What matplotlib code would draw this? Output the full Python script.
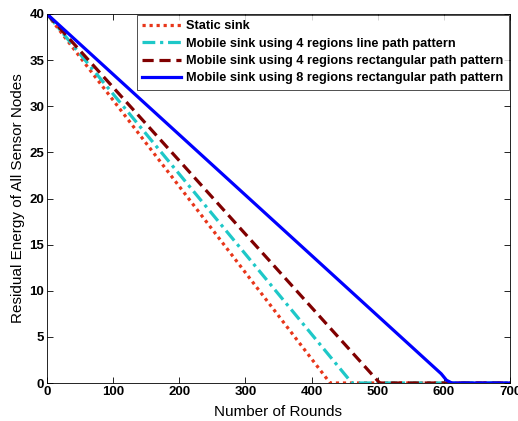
import matplotlib
matplotlib.use('Agg')
import matplotlib.pyplot as plt

plt.rcParams['font.family'] = ['Liberation Sans', 'DejaVu Sans']

# rounds where each curve hits zero
static_x = [0, 428, 700]
static_y = [40, 0, 0]
line4_x = [0, 461, 700]
line4_y = [40, 0, 0]
rect4_x = [0, 503, 700]
rect4_y = [40, 0, 0]
rect8_x = [0, 596, 604, 612, 700]
rect8_y = [40, 1.0, 0.3, 0, 0]

labels = ['Static sink',
          'Mobile sink using 4 regions line path pattern',
          'Mobile sink using 4 regions rectangular path pattern',
          'Mobile sink using 8 regions rectangular path pattern']

fig = plt.figure(figsize=(5.18, 4.21), dpi=100)
ax = fig.add_axes([47/518, 38/421, 463/518, 369/421])

ax.plot(static_x, static_y, color='#e8361a', linestyle=(0, (1, 1.2)), linewidth=2.3, label=labels[0])
ax.plot(line4_x, line4_y, color='#1ec8c8', linestyle=(0, (4, 1.5, 1, 1.5)), linewidth=2.3, label=labels[1])
ax.plot(rect4_x, rect4_y, color='#800000', linestyle=(0, (3.5, 1.8)), linewidth=2.3, label=labels[2])
ax.plot(rect8_x, rect8_y, color='#0000ff', linestyle='-', linewidth=2.3, label=labels[3])

ax.set_xlim(0, 700)
ax.set_ylim(0, 40)
ax.set_xticks(range(0, 701, 100))
ax.set_yticks(range(0, 41, 5))
ax.tick_params(direction='in', top=True, right=True, length=4, width=0.6, pad=2)
for lab in ax.get_xticklabels() + ax.get_yticklabels():
    lab.set_fontweight('bold')
    lab.set_fontsize(9.5)
for s in ax.spines.values():
    s.set_linewidth(0.6)

ax.set_xlabel('Number of Rounds', fontsize=11, labelpad=5)
ax.set_ylabel('Residual Energy of All Sensor Nodes', fontsize=11, labelpad=3)

leg = ax.legend(loc='upper right', prop={'weight': 'bold', 'size': 9.2}, frameon=True,
                fancybox=False, edgecolor='black', borderaxespad=0.05,
                handlelength=3.0, handletextpad=0.45, labelspacing=0.42,
                borderpad=0.45)
leg.get_frame().set_linewidth(0.6)

fig.savefig('out.png', dpi=100)
